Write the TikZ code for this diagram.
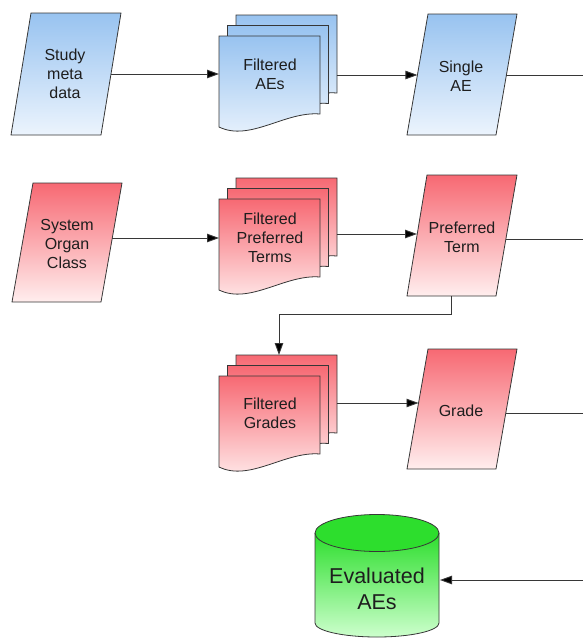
\documentclass[tikz,border=0pt]{standalone}
\usepackage{fontspec}
\setmainfont{Liberation Sans}
\usetikzlibrary{arrows.meta}
\definecolor{bluetop}{RGB}{152,195,240}
\definecolor{bluebot}{RGB}{236,244,253}
\definecolor{redtop}{RGB}{247,105,115}
\definecolor{redbot}{RGB}{255,238,238}
\definecolor{greentop}{RGB}{45,222,45}
\definecolor{greenbot}{RGB}{205,255,205}
\definecolor{edgecol}{RGB}{55,55,55}
\definecolor{ink}{RGB}{30,30,30}
\tikzset{
  bluebox/.style={draw=edgecol, line width=0.8pt, top color=bluetop, bottom color=bluebot},
  redbox/.style={draw=edgecol, line width=0.8pt, top color=redtop, bottom color=redbot},
  greenbox/.style={top color=greentop, bottom color=greenbot},
  lbl/.style={text=ink, align=center, font=\fontsize{16}{19}\selectfont, inner sep=0pt},
  biglbl/.style={text=ink, align=center, font=\fontsize{21.5}{26}\selectfont, inner sep=0pt},
  conn/.style={draw=edgecol, line width=0.9pt},
  arr/.style={conn, -{Triangle[length=12pt,width=8.5pt,fill=black]}},
}
\newcommand\docpage[3]{\path[#3, shift={(#1,#2)}] (0,0) -- (101,0) -- (101,78) .. controls (66,75) and (31,106) .. (0,91) -- cycle;}
\newcommand\docstack[3]{%
  \docpage{#1+17}{#2-21}{#3}%
  \docpage{#1+8.5}{#2-10.5}{#3}%
  \docpage{#1}{#2}{#3}}
\begin{document}
\begin{tikzpicture}[x=1pt,y=-1pt]
\useasboundingbox (0,0) rectangle (583,638);

% ---- row 1 ----
\path[bluebox] (31,13) -- (121,13) -- (101,135) -- (11,135) -- cycle;
\node[lbl] (smd) at (65,74) {Study\\meta\\data};
\docstack{219}{36}{bluebox}
\node[lbl] (fae) at (270,74) {Filtered\\AEs};
\path[bluebox] (428,14) -- (517,14) -- (496,135) -- (407,135) -- cycle;
\node[lbl] (sae) at (461,76) {Single\\AE};

% ---- row 2 ----
\path[redbox] (33,183) -- (122,183) -- (101,302) -- (12,302) -- cycle;
\node[lbl] (soc) at (67,244) {System\\Organ\\Class};
\docstack{219}{199}{redbox}
\node[lbl] (fpt) at (270,238) {Filtered\\Preferred\\Terms};
\path[redbox] (427,175) -- (517,175) -- (496,296) -- (407,296) -- cycle;
\node[lbl] (pt) at (462,237) {Preferred\\Term};

% ---- row 3 ----
\docstack{219}{376}{redbox}
\node[lbl] (fg) at (270,413) {Filtered\\Grades};
\path[redbox] (428,349) -- (517,349) -- (496,469) -- (407,469) -- cycle;
\node[lbl] (gr) at (461,411) {Grade};

% ---- cylinder ----
\path[greenbox] (315,533) -- (315,623) arc[start angle=180, end angle=0, x radius=62, y radius=14] -- (439,533) -- cycle;
\draw[draw=edgecol, line width=0.8pt] (315,533) -- (315,623) arc[start angle=180, end angle=0, x radius=62, y radius=14] -- (439,533);
\filldraw[draw=edgecol, line width=0.8pt, fill=greentop] (377,533) ellipse [x radius=62, y radius=18.5];
\node[biglbl] (eae) at (377,589) {Evaluated\\AEs};

% ---- anchor points ----
\coordinate (smd-e) at (111,74);
\coordinate (fae-w) at (219,74);
\coordinate (fae-e) at (336.5,75);
\coordinate (sae-w) at (417.4,75);
\coordinate (sae-e) at (506.4,75);
\coordinate (soc-e) at (112.3,238);
\coordinate (fpt-w) at (219,238);
\coordinate (fpt-e) at (336.5,234);
\coordinate (pt-w) at (417,234);
\coordinate (pt-e) at (505.9,239);
\coordinate (pt-s) at (451,296);
\coordinate (fg-n) at (279,355);
\coordinate (fg-e) at (336.5,403);
\coordinate (gr-w) at (418.5,403);
\coordinate (gr-e) at (505.8,413);
\coordinate (eae-e) at (440,580);
\coordinate (bus1) at (584.5,75);
\coordinate (bus2) at (584.5,239);
\coordinate (bus3) at (584.5,413);
\coordinate (bus4) at (584.5,580);

% ---- connectors ----
\draw[arr] (smd-e) -- (fae-w);
\draw[arr] (fae-e) -- (sae-w);
\draw[conn] (sae-e) -- (bus1);
\draw[arr] (soc-e) -- (fpt-w);
\draw[arr] (fpt-e) -- (pt-w);
\draw[conn] (pt-e) -- (bus2);
\draw[arr] (pt-s) -- (451,314) -- (279,314) -- (fg-n);
\draw[arr] (fg-e) -- (gr-w);
\draw[conn] (gr-e) -- (bus3);
\draw[conn] (bus1) -- (bus4);
\draw[arr] (bus4) -- (eae-e);
\end{tikzpicture}
\end{document}
